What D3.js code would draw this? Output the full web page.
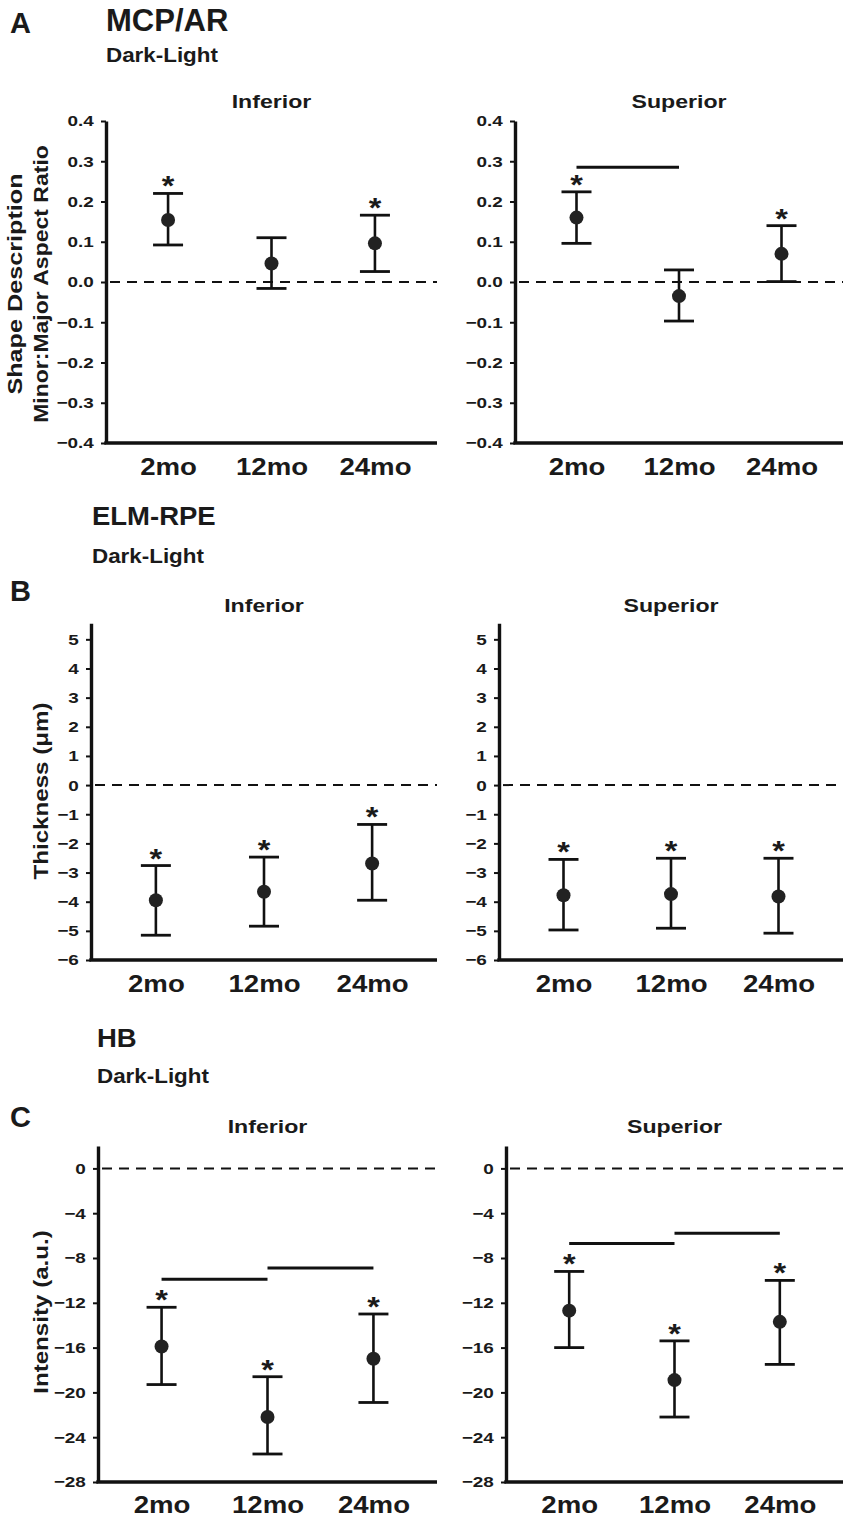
<!DOCTYPE html>
<html>
<head>
<meta charset="utf-8">
<script src="https://cdn.jsdelivr.net/npm/d3@7"></script>
<style>
  body { margin: 0; background: #fff; }
  svg text { font-family: "Liberation Sans", Arial, sans-serif; font-weight: bold; fill: #1a1a1a; }
</style>
</head>
<body>
<div id="chart"></div>
<script>
// categories
const categories = ['2mo', '12mo', '24mo'];

// A - MCP/AR, minor:major aspect ratio
const arInfMean = [0.154, 0.046, 0.096];
const arInfUpper = [0.220, 0.110, 0.166];
const arInfLower = [0.092, -0.016, 0.026];
const arInfStar = [true, false, true];
const arSupMean = [0.160, -0.035, 0.070];
const arSupUpper = [0.224, 0.030, 0.140];
const arSupLower = [0.096, -0.097, 0.001];
const arSupStar = [true, false, true];
const arSupBars = [{ from: '2mo', to: '12mo', value: 0.285 }];
const arTicks = [-0.4, -0.3, -0.2, -0.1, 0.0, 0.1, 0.2, 0.3, 0.4];

// B - ELM-RPE thickness
const thInfMean = [-3.95, -3.66, -2.69];
const thInfUpper = [-2.76, -2.47, -1.35];
const thInfLower = [-5.15, -4.84, -3.95];
const thInfStar = [true, true, true];
const thSupMean = [-3.78, -3.74, -3.82];
const thSupUpper = [-2.55, -2.51, -2.51];
const thSupLower = [-4.97, -4.91, -5.08];
const thSupStar = [true, true, true];
const thTicks = [-6, -5, -4, -3, -2, -1, 0, 1, 2, 3, 4, 5];

// C - HB intensity
const inInfMean = [-15.9, -22.2, -17.0];
const inInfUpper = [-12.4, -18.6, -13.0];
const inInfLower = [-19.3, -25.5, -20.9];
const inInfStar = [true, true, true];
const inInfBars = [{ from: '2mo', to: '12mo', value: -9.9 }, { from: '12mo', to: '24mo', value: -8.9 }];
const inSupMean = [-12.7, -18.9, -13.7];
const inSupUpper = [-9.2, -15.4, -10.0];
const inSupLower = [-16.0, -22.2, -17.5];
const inSupStar = [true, true, true];
const inSupBars = [{ from: '2mo', to: '12mo', value: -6.7 }, { from: '12mo', to: '24mo', value: -5.8 }];
const inTicks = [-28, -24, -20, -16, -12, -8, -4, 0];

const W = 851, H = 1525;
const svg = d3.select('#chart').append('svg')
    .attr('width', W)
    .attr('height', H);

// text helper, sx stretches the text along its reading direction
function label(x, y, str, size, anchor, sx, rot) {
    return svg.append('text')
        .attr('transform', 'translate(' + x + ',' + y + ')' + (rot ? ' rotate(' + rot + ')' : '') + ' scale(' + sx + ',1)')
        .attr('text-anchor', anchor)
        .attr('font-size', size)
        .text(str);
}

function panel(opt) {
    const x = d3.scalePoint().domain(categories).range([opt.x0, opt.x1]).padding(0.6);
    const y = d3.scaleLinear().domain(opt.domain).range(opt.yRange);
    const g = svg.append('g');

    // zero reference line
    g.append('line')
        .attr('x1', opt.x0 + 4).attr('x2', opt.x1)
        .attr('y1', y(0)).attr('y2', y(0))
        .attr('stroke', '#111').attr('stroke-width', 2)
        .attr('stroke-dasharray', '10,7');

    const ya = g.append('g')
        .attr('transform', 'translate(' + opt.x0 + ',0)')
        .call(d3.axisLeft(y).tickValues(opt.ticks).tickFormat(opt.fmt).tickSize(5).tickSizeOuter(0).tickPadding(5));
    ya.select('.domain').attr('stroke', '#111').attr('stroke-width', 3.4);
    ya.selectAll('.tick line').attr('stroke', '#111').attr('stroke-width', 2);
    ya.selectAll('.tick text')
        .attr('font-size', 15.5)
        .attr('fill', '#1a1a1a')
        .attr('font-family', '"Liberation Sans", Arial, sans-serif')
        .attr('transform', 'scale(1.22,1)');

    const xa = g.append('g')
        .attr('transform', 'translate(0,' + opt.yRange[0] + ')')
        .call(d3.axisBottom(x).tickSize(0).tickSizeOuter(0).tickPadding(0));
    xa.select('.domain').attr('stroke', '#111').attr('stroke-width', 3.4)
        .attr('d', 'M' + (opt.x0 - 1.7) + ',0H' + opt.x1);
    xa.selectAll('.tick text')
        .attr('font-size', 23)
        .attr('fill', '#1a1a1a')
        .attr('font-family', '"Liberation Sans", Arial, sans-serif')
        .attr('dy', null)
        .attr('y', 0)
        .attr('transform', 'translate(0,' + opt.labelDy + ') scale(1.2,1)');

    const rows = categories.map((c, i) => ({ c: c, m: opt.mean[i], hi: opt.upper[i], lo: opt.lower[i], star: opt.star[i] }));

    g.selectAll('.whisker').data(rows).enter().append('line')
        .attr('x1', d => x(d.c)).attr('x2', d => x(d.c))
        .attr('y1', d => y(d.hi)).attr('y2', d => y(d.lo))
        .attr('stroke', '#111').attr('stroke-width', 2.6);
    g.selectAll('.capHi').data(rows).enter().append('line')
        .attr('x1', d => x(d.c) - 15).attr('x2', d => x(d.c) + 15)
        .attr('y1', d => y(d.hi)).attr('y2', d => y(d.hi))
        .attr('stroke', '#111').attr('stroke-width', 2.8);
    g.selectAll('.capLo').data(rows).enter().append('line')
        .attr('x1', d => x(d.c) - 15).attr('x2', d => x(d.c) + 15)
        .attr('y1', d => y(d.lo)).attr('y2', d => y(d.lo))
        .attr('stroke', '#111').attr('stroke-width', 2.8);
    g.selectAll('.dot').data(rows).enter().append('circle')
        .attr('cx', d => x(d.c)).attr('cy', d => y(d.m))
        .attr('r', 7)
        .attr('fill', '#222');
    g.selectAll('.star').data(rows.filter(d => d.star)).enter().append('text')
        .attr('transform', d => 'translate(' + x(d.c) + ',' + (y(d.hi) + 2) + ') scale(1.2,1)')
        .attr('text-anchor', 'middle')
        .attr('font-size', 27)
        .text('*');

    g.selectAll('.sig').data(opt.bars || []).enter().append('line')
        .attr('x1', d => x(d.from)).attr('x2', d => x(d.to))
        .attr('y1', d => y(d.value)).attr('y2', d => y(d.value))
        .attr('stroke', '#111').attr('stroke-width', 3);

    label((x(categories[0]) + x(categories[2])) / 2, opt.titleY, opt.title, 18.5, 'middle', 1.25);
}

const fmt1 = d3.format('.1f');
const fmt0 = d3.format('d');

// row A
label(10, 33, 'A', 29, 'start', 1.0);
label(106, 31, 'MCP/AR', 31, 'start', 1.0);
label(106, 62, 'Dark-Light', 20, 'start', 1.12);
label(22, 284, 'Shape Description', 21, 'middle', 1.2, -90);
label(48, 284, 'Minor:Major Aspect Ratio', 20, 'middle', 1.15, -90);
panel({ x0: 106, x1: 437, domain: [-0.4, 0.4], yRange: [443, 121], ticks: arTicks, fmt: fmt1,
    mean: arInfMean, upper: arInfUpper, lower: arInfLower, star: arInfStar, title: 'Inferior', titleY: 108, labelDy: 32 });
panel({ x0: 515, x1: 843, domain: [-0.4, 0.4], yRange: [443, 121], ticks: arTicks, fmt: fmt1,
    mean: arSupMean, upper: arSupUpper, lower: arSupLower, star: arSupStar, bars: arSupBars, title: 'Superior', titleY: 108, labelDy: 32 });

// row B
label(92, 525, 'ELM-RPE', 25, 'start', 1.1);
label(92, 563, 'Dark-Light', 20, 'start', 1.12);
label(10, 601, 'B', 29, 'start', 1.0);
label(48, 791, 'Thickness (\u03bcm)', 21, 'middle', 1.15, -90);
panel({ x0: 91, x1: 437, domain: [-6, 5.55], yRange: [960, 623.3], ticks: thTicks, fmt: fmt0,
    mean: thInfMean, upper: thInfUpper, lower: thInfLower, star: thInfStar, title: 'Inferior', titleY: 612, labelDy: 32 });
panel({ x0: 499, x1: 843, domain: [-6, 5.55], yRange: [960, 623.3], ticks: thTicks, fmt: fmt0,
    mean: thSupMean, upper: thSupUpper, lower: thSupLower, star: thSupStar, title: 'Superior', titleY: 612, labelDy: 32 });

// row C
label(97, 1047, 'HB', 25, 'start', 1.1);
label(97, 1083, 'Dark-Light', 20, 'start', 1.12);
label(10, 1127, 'C', 29, 'start', 1.0);
label(48, 1312, 'Intensity (a.u.)', 21, 'middle', 1.15, -90);
panel({ x0: 98, x1: 437, domain: [-28, 2], yRange: [1482, 1146], ticks: inTicks, fmt: fmt0,
    mean: inInfMean, upper: inInfUpper, lower: inInfLower, star: inInfStar, bars: inInfBars, title: 'Inferior', titleY: 1133, labelDy: 31 });
panel({ x0: 506, x1: 843, domain: [-28, 2], yRange: [1482, 1146], ticks: inTicks, fmt: fmt0,
    mean: inSupMean, upper: inSupUpper, lower: inSupLower, star: inSupStar, bars: inSupBars, title: 'Superior', titleY: 1133, labelDy: 31 });
</script>
</body>
</html>
